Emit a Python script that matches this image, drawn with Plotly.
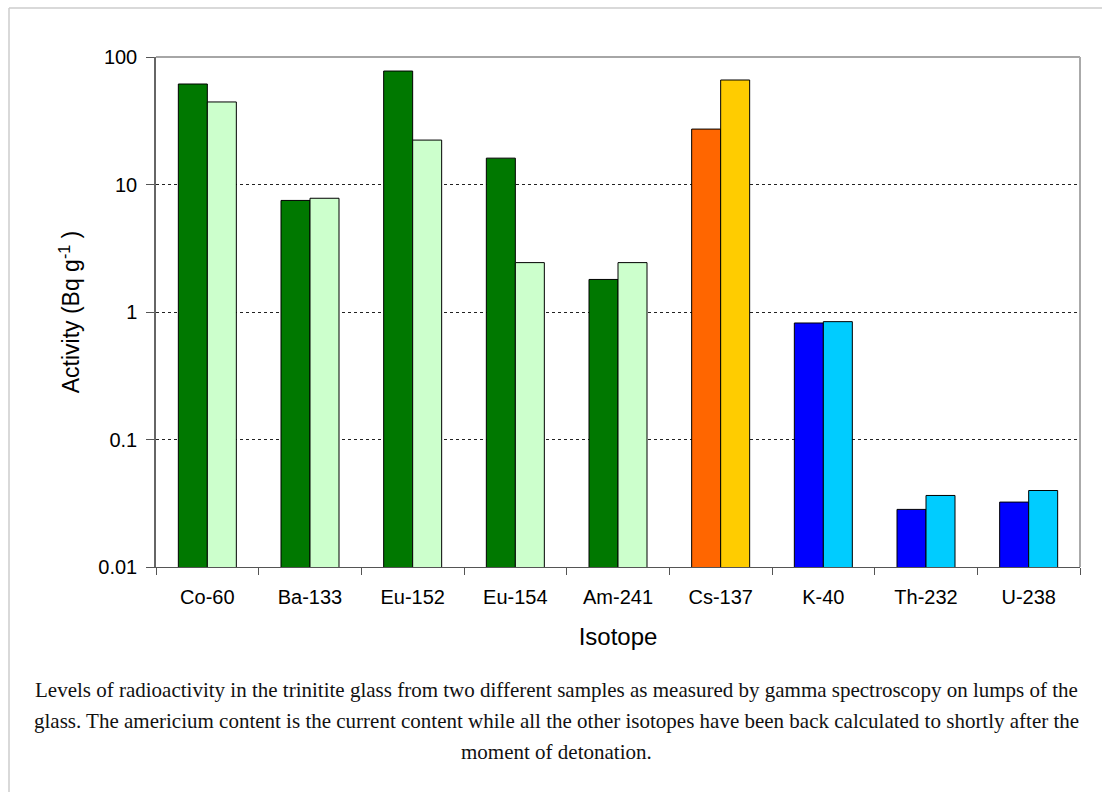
import plotly.graph_objects as go

isotopes = ["Co-60", "Ba-133", "Eu-152", "Eu-154", "Am-241", "Cs-137", "K-40", "Th-232", "U-238"]
sample1 = [61.4, 7.5, 77.6, 16.1, 1.80, 27.2, 0.82, 0.0283, 0.0323]
sample2 = [44.4, 7.8, 22.3, 2.44, 2.44, 66.0, 0.84, 0.0364, 0.0398]
colors1 = ["#007800", "#007800", "#007800", "#007800", "#007800", "#FF6600", "#0000FF", "#0000FF", "#0000FF"]
colors2 = ["#CCFFCC", "#CCFFCC", "#CCFFCC", "#CCFFCC", "#CCFFCC", "#FFCC00", "#00CCFF", "#00CCFF", "#00CCFF"]
ytick_vals = [0.01, 0.1, 1, 10, 100]
ytick_text = ["0.01", "0.1", "1", "10", "100"]
caption_lines = [
    "Levels of radioactivity in the trinitite glass from two different samples as measured by gamma spectroscopy on lumps of the",
    "glass. The americium content is the current content while all the other isotopes have been back calculated to shortly after the",
    "moment of detonation.",
]

fig = go.Figure()
fig.add_trace(go.Bar(x=isotopes, y=sample1, marker=dict(color=colors1, line=dict(color="black", width=1)),
                     showlegend=False))
fig.add_trace(go.Bar(x=isotopes, y=sample2, marker=dict(color=colors2, line=dict(color="black", width=1)),
                     showlegend=False))

PL, PT, PW, PH = 156, 57, 924, 510


def px_x(x):
    return (x - PL) / PW


def px_y(y):
    return (PT + PH - y) / PH


annotations = []
for i, line in enumerate(caption_lines):
    annotations.append(dict(
        text=line, xref="paper", yref="paper", x=px_x(556), y=px_y(690 + i * 31),
        xanchor="center", yanchor="middle", showarrow=False,
        font=dict(family="Liberation Serif, Times New Roman, serif", size=21, color="#111"),
    ))

fig.update_layout(
    width=1102, height=792,
    margin=dict(l=PL, r=1102 - PL - PW, t=PT, b=792 - PT - PH),
    paper_bgcolor="white", plot_bgcolor="white",
    barmode="group", bargap=0.435, bargroupgap=0,
    font=dict(family="Liberation Sans, Arial, sans-serif", color="black"),
    xaxis=dict(
        type="category", tickson="boundaries", ticks="outside", ticklen=7, tickcolor="#555",
        showline=True, linecolor="#555", linewidth=1, showgrid=False,
        tickfont=dict(size=20), ticklabelstandoff=12,
        title=dict(text="Isotope", font=dict(size=24), standoff=21),
    ),
    yaxis=dict(
        type="log", range=[-2, 2], tickvals=ytick_vals, ticktext=ytick_text,
        ticks="outside", ticklen=8, tickcolor="#555",
        showline=True, linecolor="#666", linewidth=1.5,
        showgrid=True, gridcolor="#222", gridwidth=1, griddash="3px,3px",
        zeroline=False, tickfont=dict(size=20), ticklabelstandoff=5,
        title=dict(text="Activity (Bq g<sup>-1</sup> )", font=dict(size=23), standoff=12),
    ),
    shapes=[
        dict(type="line", xref="paper", yref="paper", x0=0, x1=1, y0=1, y1=1, line=dict(color="#888", width=1.5)),
        dict(type="line", xref="paper", yref="paper", x0=1, x1=1, y0=0, y1=1, line=dict(color="#aaa", width=2)),
        dict(type="line", xref="paper", yref="paper", x0=px_x(9), x1=px_x(1110), y0=px_y(8), y1=px_y(8),
             line=dict(color="#ccc", width=1.5)),
        dict(type="line", xref="paper", yref="paper", x0=px_x(9), x1=px_x(9), y0=px_y(800), y1=px_y(8),
             line=dict(color="#ccc", width=1.5)),
    ],
    annotations=annotations,
)

fig.write_html("out.html")
